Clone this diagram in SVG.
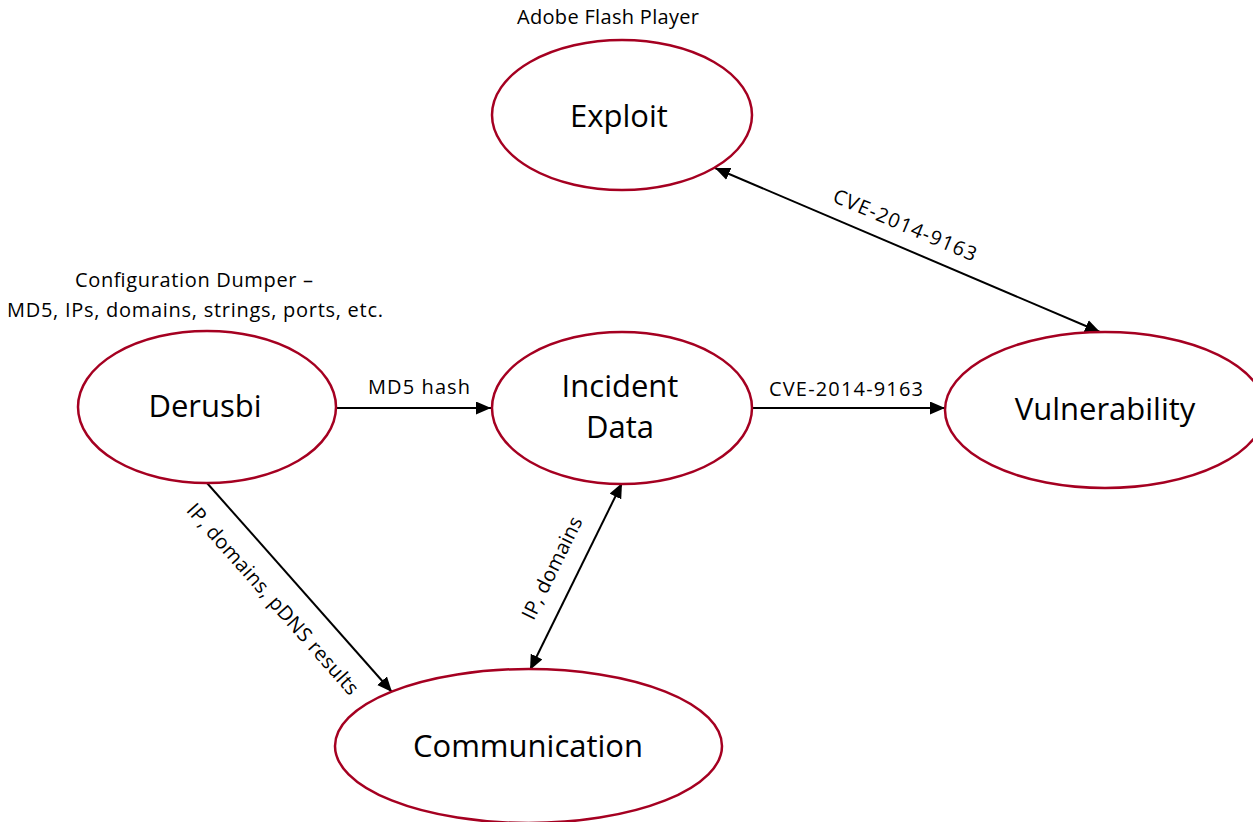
<svg xmlns="http://www.w3.org/2000/svg" width="1253" height="822" viewBox="0 0 1253 822">
<style>
.node{fill:#fff;stroke:#A50021;stroke-width:2.5}
.nl{font-family:"Open Sans","Liberation Sans",sans-serif;font-size:31px;fill:#000;text-anchor:middle}
.sl{font-family:"Open Sans","Liberation Sans",sans-serif;font-size:20px;fill:#000;text-anchor:middle}
.edge{stroke:#000;stroke-width:2;fill:none}
</style>
<defs>
<marker id="arr" markerUnits="userSpaceOnUse" markerWidth="16" markerHeight="14" refX="15" refY="6.5" orient="auto-start-reverse" viewBox="0 0 16 14">
<path d="M0,0 L15,6.5 L0,13 z" fill="#000"/>
</marker>
</defs>
<rect width="1253" height="822" fill="#fff"/>
<g id="connectors">
<line class="edge" x1="336" y1="408" x2="491" y2="408" marker-end="url(#arr)"/>
<line class="edge" x1="752" y1="408" x2="945" y2="408" marker-end="url(#arr)"/>
<line class="edge" x1="715" y1="168" x2="1100" y2="332" marker-start="url(#arr)" marker-end="url(#arr)"/>
<line class="edge" x1="207" y1="483" x2="392" y2="692" marker-end="url(#arr)"/>
<line class="edge" x1="622" y1="483" x2="530" y2="670" marker-start="url(#arr)" marker-end="url(#arr)"/>
<text class="sl" x="419" y="394" textLength="102">MD5 hash</text>
<text class="sl" x="846" y="396" textLength="154">CVE-2014-9163</text>
<text class="sl" transform="translate(905,225) rotate(23.07)" x="0" y="7" textLength="154">CVE-2014-9163</text>
<text class="sl" transform="translate(273,599) rotate(48.5)" x="0" y="7" textLength="248">IP, domains, pDNS results</text>
<text class="sl" transform="translate(552,568) rotate(-63.8)" x="0" y="7" textLength="112">IP, domains</text>
</g>
<g id="exploit">
<ellipse class="node" cx="622" cy="115" rx="130" ry="75"/>
<text class="nl" x="619" y="127">Exploit</text>
<text class="sl" x="608" y="24" textLength="182">Adobe Flash Player</text>
</g>
<g id="derusbi">
<ellipse class="node" cx="207" cy="407" rx="129" ry="76"/>
<text class="nl" x="205" y="417">Derusbi</text>
<text class="sl" x="194" y="287" textLength="238">Configuration Dumper –</text>
<text class="sl" x="195" y="317" textLength="376">MD5, IPs, domains, strings, ports, etc.</text>
</g>
<g id="incident">
<ellipse class="node" cx="622" cy="408" rx="130" ry="76"/>
<text class="nl" x="620" y="397">Incident</text>
<text class="nl" x="620" y="438">Data</text>
</g>
<g id="vulnerability">
<ellipse class="node" cx="1105" cy="410" rx="160" ry="78"/>
<text class="nl" x="1105" y="420">Vulnerability</text>
</g>
<g id="communication">
<ellipse class="node" cx="528.5" cy="746" rx="193.5" ry="77"/>
<text class="nl" x="528" y="757">Communication</text>
</g>
</svg>
